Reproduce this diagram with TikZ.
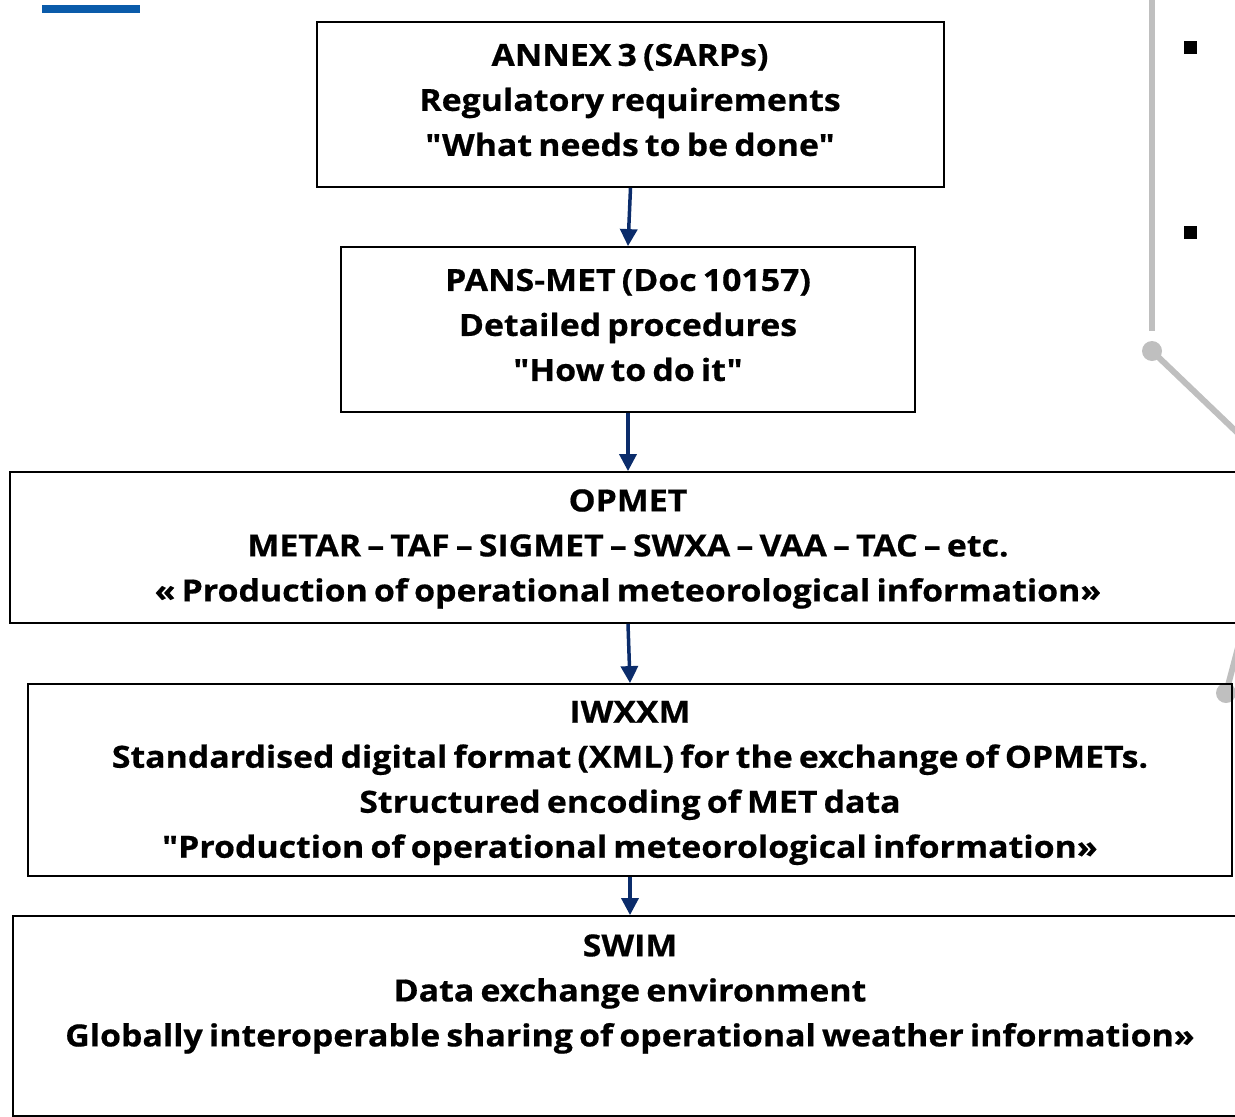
\documentclass[tikz,border=0pt]{standalone}
\usepackage{fontspec}
\setmainfont{Open Sans}[Ligatures=TeXOff, WordSpace=0.7, FakeStretch=1.11, BoldFeatures={FakeBold=0.6}]
\usetikzlibrary{arrows.meta}
\definecolor{navy}{HTML}{0B2C6B}
\definecolor{barblue}{HTML}{0A5BAA}
\definecolor{lgray}{HTML}{BFBFBF}
\tikzset{
  box/.style={draw=black, line width=1.8pt, rectangle, inner sep=0pt},
  txt/.style={align=center, font=\fontsize{30.5}{45}\selectfont\bfseries, inner sep=0pt},
  flow/.style={draw=navy, line width=3.5pt, -{Triangle[length=17pt,width=17pt]}},
  gline/.style={draw=lgray, line width=6pt},
}
\begin{document}
\begin{tikzpicture}[x=1pt,y=-1pt]
\useasboundingbox (0,0) rectangle (1235,1117);
% decorations
\fill[barblue] (42,5) rectangle (140,13);
\fill[black] (1184,41) rectangle (1197,54);
\fill[black] (1184,226) rectangle (1197,239);
\coordinate (gtop) at (1152,0);
\coordinate (gend) at (1152,331);
\coordinate (gdot) at (1152,351);
\coordinate (gdiag) at (1245,440);
\draw[gline] (gtop) -- (gend);
\draw[gline] (gdot) -- (gdiag);
\fill[lgray] (gdot) circle (10);
\coordinate (gdot2) at (1226,693);
\coordinate (gup) at (1240,640);
\draw[gline] (gdot2) -- (gup);
\fill[lgray] (gdot2) circle (10);
% boxes
\node[box, minimum width=627, minimum height=165] (annex) at (630.5,104.5) {};
\node[box, minimum width=574, minimum height=165] (pans) at (628,329.5) {};
\node[box, minimum width=1236, minimum height=151] (opmet) at (628,547.5) {};
\node[box, minimum width=1204, minimum height=192] (iwxxm) at (630,780) {};
\node[box, minimum width=1234, minimum height=200] (swim) at (630,1016) {};
% texts
\node[txt] (annext) at (630,100) {ANNEX 3 (SARPs)\\Regulatory requirements\\"What needs to be done"};
\node[txt] (panst) at (628,325) {PANS-MET (Doc 10157)\\Detailed procedures\\"How to do it"};
\node[txt] (opmett) at (628,549) {OPMET\\METAR – TAF – SIGMET – SWXA – VAA – TAC – etc.\\« Production of operational meteorological information»};
\node[txt] (iwxxmt) at (630,783) {IWXXM\\Standardised digital format (XML) for the exchange of OPMETs.\\Structured encoding of MET data\\"Production of operational meteorological information»};
\node[txt] (swimt) at (630,994) {SWIM\\Data exchange environment\\Globally interoperable sharing of operational weather information»};
% arrows
\draw[flow] (annex.south) -- (pans.north);
\draw[flow] (pans.south) -- (opmet.north);
\draw[flow] (opmet.south) -- (iwxxm.north);
\draw[flow] (iwxxm.south) -- (swim.north);
\end{tikzpicture}
\end{document}
